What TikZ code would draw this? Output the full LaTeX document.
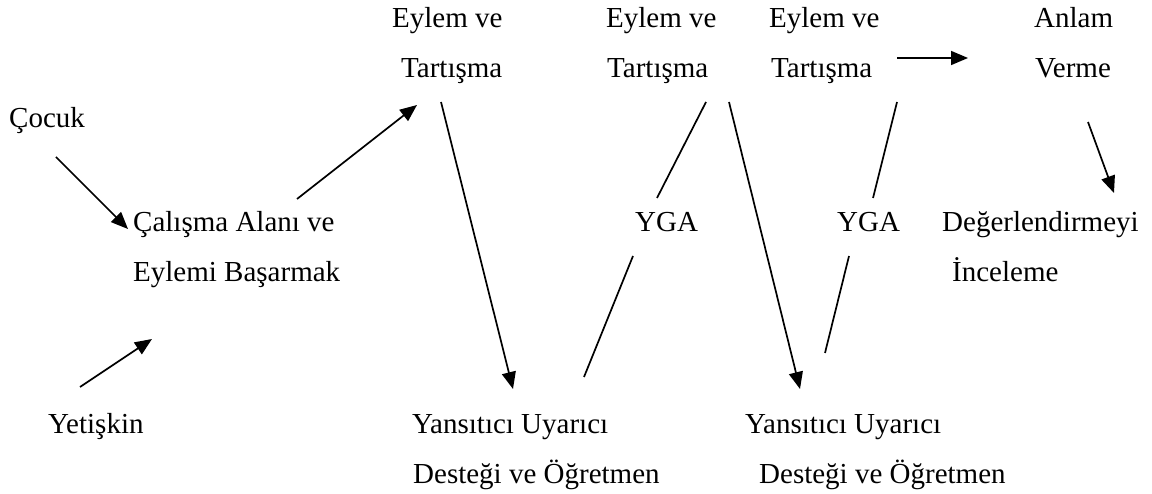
\documentclass[tikz,border=0pt]{standalone}
\usepackage{fontspec}
\setmainfont{Liberation Serif}
\usetikzlibrary{arrows.meta,calc,positioning}

\tikzset{
  etiket/.style={anchor=base west,inner sep=0pt,font=\fontsize{29}{34}\selectfont},
  ok/.style={line width=1.7pt,-{Triangle[length=17pt,width=14pt]}},
  cizgi/.style={line width=1.7pt}
}

\begin{document}
\begin{tikzpicture}[x=1pt,y=-1pt]

    \useasboundingbox (0,0) rectangle (1152,494);

	\node[etiket] (cocuk) at (9,128) {Çocuk};
	\node[etiket] (calisma) at (133,232) {Çalışma Alanı ve};
	\node[etiket] (basarmak) at (133,282) {Eylemi Başarmak};
	\node[etiket] (yetiskin) at (48,433) {Yetişkin};

	\node[etiket] (eylemA) at (392,28) {Eylem ve};
	\node[etiket] (tartismaA) at (401,78) {Tartışma};
	\node[etiket] (eylemB) at (606,28) {Eylem ve};
	\node[etiket] (tartismaB) at (607,78) {Tartışma};
	\node[etiket] (eylemC) at (769,28) {Eylem ve};
	\node[etiket] (tartismaC) at (771,78) {Tartışma};
	\node[etiket] (anlam) at (1034,28) {Anlam};
	\node[etiket] (verme) at (1035,78) {Verme};

	\node[etiket] (ygaA) at (635,232) {YGA};
	\node[etiket] (ygaB) at (837,232) {YGA};
	\node[etiket] (degerlendirme) at (942,232) {Değerlendirmeyi};
	\node[etiket] (inceleme) at (952,282) {İnceleme};

	\node[etiket] (yansiticiA) at (412,433) {Yansıtıcı Uyarıcı};
	\node[etiket] (destekA) at (413,483) {Desteği ve Öğretmen};
	\node[etiket] (yansiticiB) at (745,433) {Yansıtıcı Uyarıcı};
	\node[etiket] (destekB) at (759,483) {Desteği ve Öğretmen};

	% sol taraf
	\draw[ok] ($(cocuk.base west)+(47,29)$) -- ($(calisma.base west)+(-5,-3)$);
	\draw[ok] ($(yetiskin.base west)+(32,-46)$) -- ($(basarmak.base west)+(19,57)$);
	\draw[ok] ($(calisma.base west)+(164,-33)$) -- ($(tartismaA.base west)+(16,27)$);
	\draw[ok] ($(tartismaA.base west)+(40,24)$) -- ($(yansiticiA.base west)+(101,-44)$);

	% YGA cizgileri
	\draw[cizgi] ($(tartismaB.base west)+(99,24)$) -- ($(ygaA.base west)+(22,-34)$);
	\draw[cizgi] ($(ygaA.base west)+(-2,24)$) -- ($(yansiticiA.base west)+(172,-56)$);
	\draw[ok] ($(tartismaB.base west)+(122,24)$) -- ($(yansiticiB.base west)+(55,-44)$);
	\draw[cizgi] ($(tartismaC.base west)+(126,24)$) -- ($(ygaB.base west)+(36,-34)$);
	\draw[cizgi] ($(ygaB.base west)+(12,24)$) -- ($(yansiticiB.base west)+(80,-80)$);

	% sag taraf
	\draw[ok] ($(tartismaC.base west)+(126,-20)$) -- ($(verme.base west)+(-67,-20)$);
	\draw[ok] ($(verme.base west)+(53,44)$) -- ($(degerlendirme.base west)+(172,-39)$);

  \end{tikzpicture}
\end{document}
